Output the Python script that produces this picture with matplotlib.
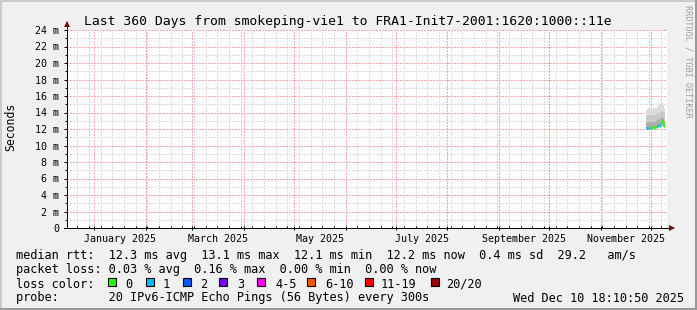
import matplotlib
matplotlib.use("Agg")
import matplotlib.pyplot as plt
import matplotlib.dates as mdates
from matplotlib.ticker import MultipleLocator, FuncFormatter
from matplotlib.patches import Rectangle
from matplotlib.lines import Line2D
from datetime import datetime, timedelta

# ---------------- data ----------------
title = "Last 360 Days from smokeping-vie1 to FRA1-Init7-2001:1620:1000::11e"
end_time = datetime(2025, 12, 10, 18, 10, 50)
span_days = 360
data_start = datetime(2025, 11, 28, 8, 0)
step_hours = 14.4

median_ms = [12.1, 12.1, 12.1, 12.1, 12.1, 12.2, 12.2, 12.2, 12.1, 12.2,
             12.2, 12.4, 12.5, 12.4, 12.5, 12.9, 13.1, 12.6, 12.4]
loss_count = [1, 1, 1, 1, 1, 0, 0, 0, 0, 0,
              0, 1, 1, 0, 1, 0, 0, 0, 0]
smoke_top = [14.3, 14.4, 14.5, 14.4, 14.5, 14.5, 14.4, 14.5, 14.6, 14.5,
             14.6, 14.8, 14.9, 14.9, 15.0, 15.5, 15.2, 14.9, 14.6]
smoke_upper = [13.6, 13.6, 13.7, 13.6, 13.7, 13.7, 13.6, 13.7, 13.7, 13.7,
               13.8, 13.9, 14.0, 13.9, 14.0, 14.3, 14.2, 14.0, 13.8]
smoke_inner = [12.8, 12.8, 12.9, 12.8, 12.9, 12.9, 12.8, 12.9, 12.9, 12.9,
               13.0, 13.1, 13.2, 13.1, 13.2, 13.5, 13.5, 13.2, 13.0]
smoke_bottom = [12.0, 12.0, 12.0, 12.0, 12.0, 12.0, 12.0, 12.1, 12.0, 12.0,
                12.1, 12.2, 12.2, 12.2, 12.3, 12.4, 12.5, 12.3, 12.2]

label_months = ["2025-01", "2025-03", "2025-05", "2025-07", "2025-09", "2025-11"]
y_max = 24

line_rtt = "median rtt:  12.3 ms avg  13.1 ms max  12.1 ms min  12.2 ms now  0.4 ms sd  29.2   am/s"
line_loss = "packet loss: 0.03 % avg  0.16 % max  0.00 % min  0.00 % now"
line_probe = "probe:       20 IPv6-ICMP Echo Pings (56 Bytes) every 300s"
stamp = "Wed Dec 10 18:10:50 2025"
loss_labels = ["0", "1", "2", "3", "4-5", "6-10", "11-19", "20/20"]
loss_upper = [0, 1, 2, 3, 5, 10, 19, 20]
loss_colors = ["#26ff00", "#00b8ff", "#0059ff", "#7e00ff", "#ff00ff",
               "#ff5500", "#ff0000", "#a00000"]
loss_box_x = [108, 146, 183, 219, 257, 307, 365, 431]
loss_text_x = [125, 163, 200, 237, 275, 325, 381, 446]

# ---------------- figure ----------------
W, H, DPI = 697, 310, 100
MONO = "DejaVu Sans Mono"
fig = plt.figure(figsize=(W / DPI, H / DPI), dpi=DPI, facecolor="#f0f0f0")

def fx(x):
    return x / W

def fy(y):
    return 1 - y / H

def ftext(x, y, s, **kw):
    kw.setdefault("family", MONO)
    kw.setdefault("fontsize", 8.55)
    kw.setdefault("va", "center_baseline")
    fig.text(fx(x), fy(y), s, **kw)

# border shading
fig.add_artist(Rectangle((0, fy(2)), 1, 2 / H, transform=fig.transFigure, color="#cbcbcb", lw=0))
fig.add_artist(Rectangle((0, 0), 2 / W, 1, transform=fig.transFigure, color="#cbcbcb", lw=0))
fig.add_artist(Rectangle((fx(695), 0), 2 / W, 1, transform=fig.transFigure, color="#999999", lw=0))
fig.add_artist(Rectangle((0, 0), 1, 2 / H, transform=fig.transFigure, color="#999999", lw=0))

L, R, T, B = 67, 667, 30, 228
ax = fig.add_axes([fx(L), fy(B), (R - L) / W, (B - T) / H])
ax.set_facecolor("white")

start_time = end_time - timedelta(days=span_days)
ax.set_xlim(mdates.date2num(start_time), mdates.date2num(end_time))
ax.set_ylim(0, y_max)

# grid
ax.xaxis.set_major_locator(mdates.MonthLocator())
ax.xaxis.set_minor_locator(mdates.WeekdayLocator(byweekday=mdates.SU))
ax.yaxis.set_major_locator(MultipleLocator(2))
ax.yaxis.set_minor_locator(MultipleLocator(1))
ax.grid(which="minor", color="#dcdcdc", linestyle=(0, (1, 1)), lw=1.0)
ax.grid(which="major", color="#f8a8a8", linestyle=(0, (1, 1)), lw=1.0)
ax.set_axisbelow(True)
ax.xaxis.set_major_formatter(FuncFormatter(lambda v, p: ""))
ax.yaxis.set_major_formatter(FuncFormatter(lambda v, p: "0" if v == 0 else f"{int(v)} m"))
ax.tick_params(axis="y", which="major", length=2.5, width=0.72, pad=3,
               labelsize=7.2, labelfontfamily=MONO, colors="black")
ax.tick_params(axis="y", which="minor", length=1.5, width=0.72)
ax.tick_params(axis="x", which="major", length=2.5, width=0.72, direction="inout")
ax.tick_params(axis="x", which="minor", length=1.5, width=0.72, direction="in")
for s in ax.spines.values():
    s.set_visible(False)

# smoke
step = timedelta(hours=step_hours)
times = [data_start + i * step for i in range(len(median_ms))]
x0 = mdates.date2num(times)
wdt = step_hours / 24.0
layers = [(smoke_top, "#dcdcdc"), (smoke_upper, "#c9c9c9"), (smoke_inner, "#adadad")]
for top, col in layers:
    ax.bar(x0, [t - b for t, b in zip(top, smoke_bottom)], bottom=smoke_bottom,
           width=wdt, align="edge", color=col, lw=0, zorder=2)

def loss_color(n):
    for up, c in zip(loss_upper, loss_colors):
        if n <= up:
            return c
    return loss_colors[-1]

cols = [loss_color(n) for n in loss_count]
ax.hlines(median_ms, x0, x0 + wdt, colors=cols, lw=1.8, zorder=3)
for i in range(1, len(median_ms)):
    ax.vlines(x0[i], min(median_ms[i - 1], median_ms[i]), max(median_ms[i - 1], median_ms[i]),
              colors=cols[i], lw=1.0, zorder=3)

# axes lines + arrows
ax.add_line(Line2D([0, 0], [0, (B - 22) / (B - T)], transform=ax.transAxes,
                   color="black", lw=0.72, clip_on=False, zorder=5))
ax.add_line(Line2D([-3 / (R - L), (673 - L) / (R - L)], [0, 0], transform=ax.transAxes,
                   color="black", lw=0.72, clip_on=False, zorder=5))
ax.plot([0], [(B - 23.5) / (B - T)], transform=ax.transAxes, marker="^", ms=4.2,
        color="#7a0a0a", clip_on=False, zorder=6, mew=0)
ax.plot([(671.5 - L) / (R - L)], [0], transform=ax.transAxes, marker=">", ms=4.2,
        color="#7a0a0a", clip_on=False, zorder=6, mew=0)

# month labels (centered on the month)
for m in label_months:
    ms_ = datetime.strptime(m, "%Y-%m")
    nxt = (ms_ + timedelta(days=32)).replace(day=1)
    mid = mdates.date2num(ms_) + (mdates.date2num(nxt) - mdates.date2num(ms_)) / 2
    ax.text(mid, -10 / (B - T) * y_max, ms_.strftime("%B %Y"), ha="center",
            va="center_baseline", fontsize=7.2, family=MONO)

# titles and side texts
ftext(347.5, 20, title, ha="center", fontsize=9.45)
fig.text(fx(10.5), fy(127), "Seconds", rotation=90, ha="center", va="center",
         family=MONO, fontsize=8.3)
fig.text(fx(688), fy(61), "RRDTOOL / TOBI OETIKER", rotation=-90, ha="center",
         va="center", family=MONO, fontsize=6.1, color="#a0a0a0")

# legend
ftext(16, 254.5, line_rtt)
ftext(16, 268.5, line_loss)
ftext(16, 282.5, "loss color:")
for bx, tx, lab, c in zip(loss_box_x, loss_text_x, loss_labels, loss_colors):
    fig.add_artist(Rectangle((fx(bx), fy(286)), 8 / W, 8 / H, transform=fig.transFigure,
                             facecolor=c, edgecolor="black", lw=0.8))
    ftext(tx, 282.5, lab)
ftext(16, 296.5, line_probe)
ftext(513, 296.5, stamp)

# crisp dotted grid (draw once so all tick gridlines exist)
fig.canvas.draw()
for axis in (ax.xaxis, ax.yaxis):
    for tk in axis.get_major_ticks() + axis.get_minor_ticks():
        tk.gridline.set_antialiased(False)

fig.savefig("out.png", dpi=DPI, facecolor=fig.get_facecolor())
